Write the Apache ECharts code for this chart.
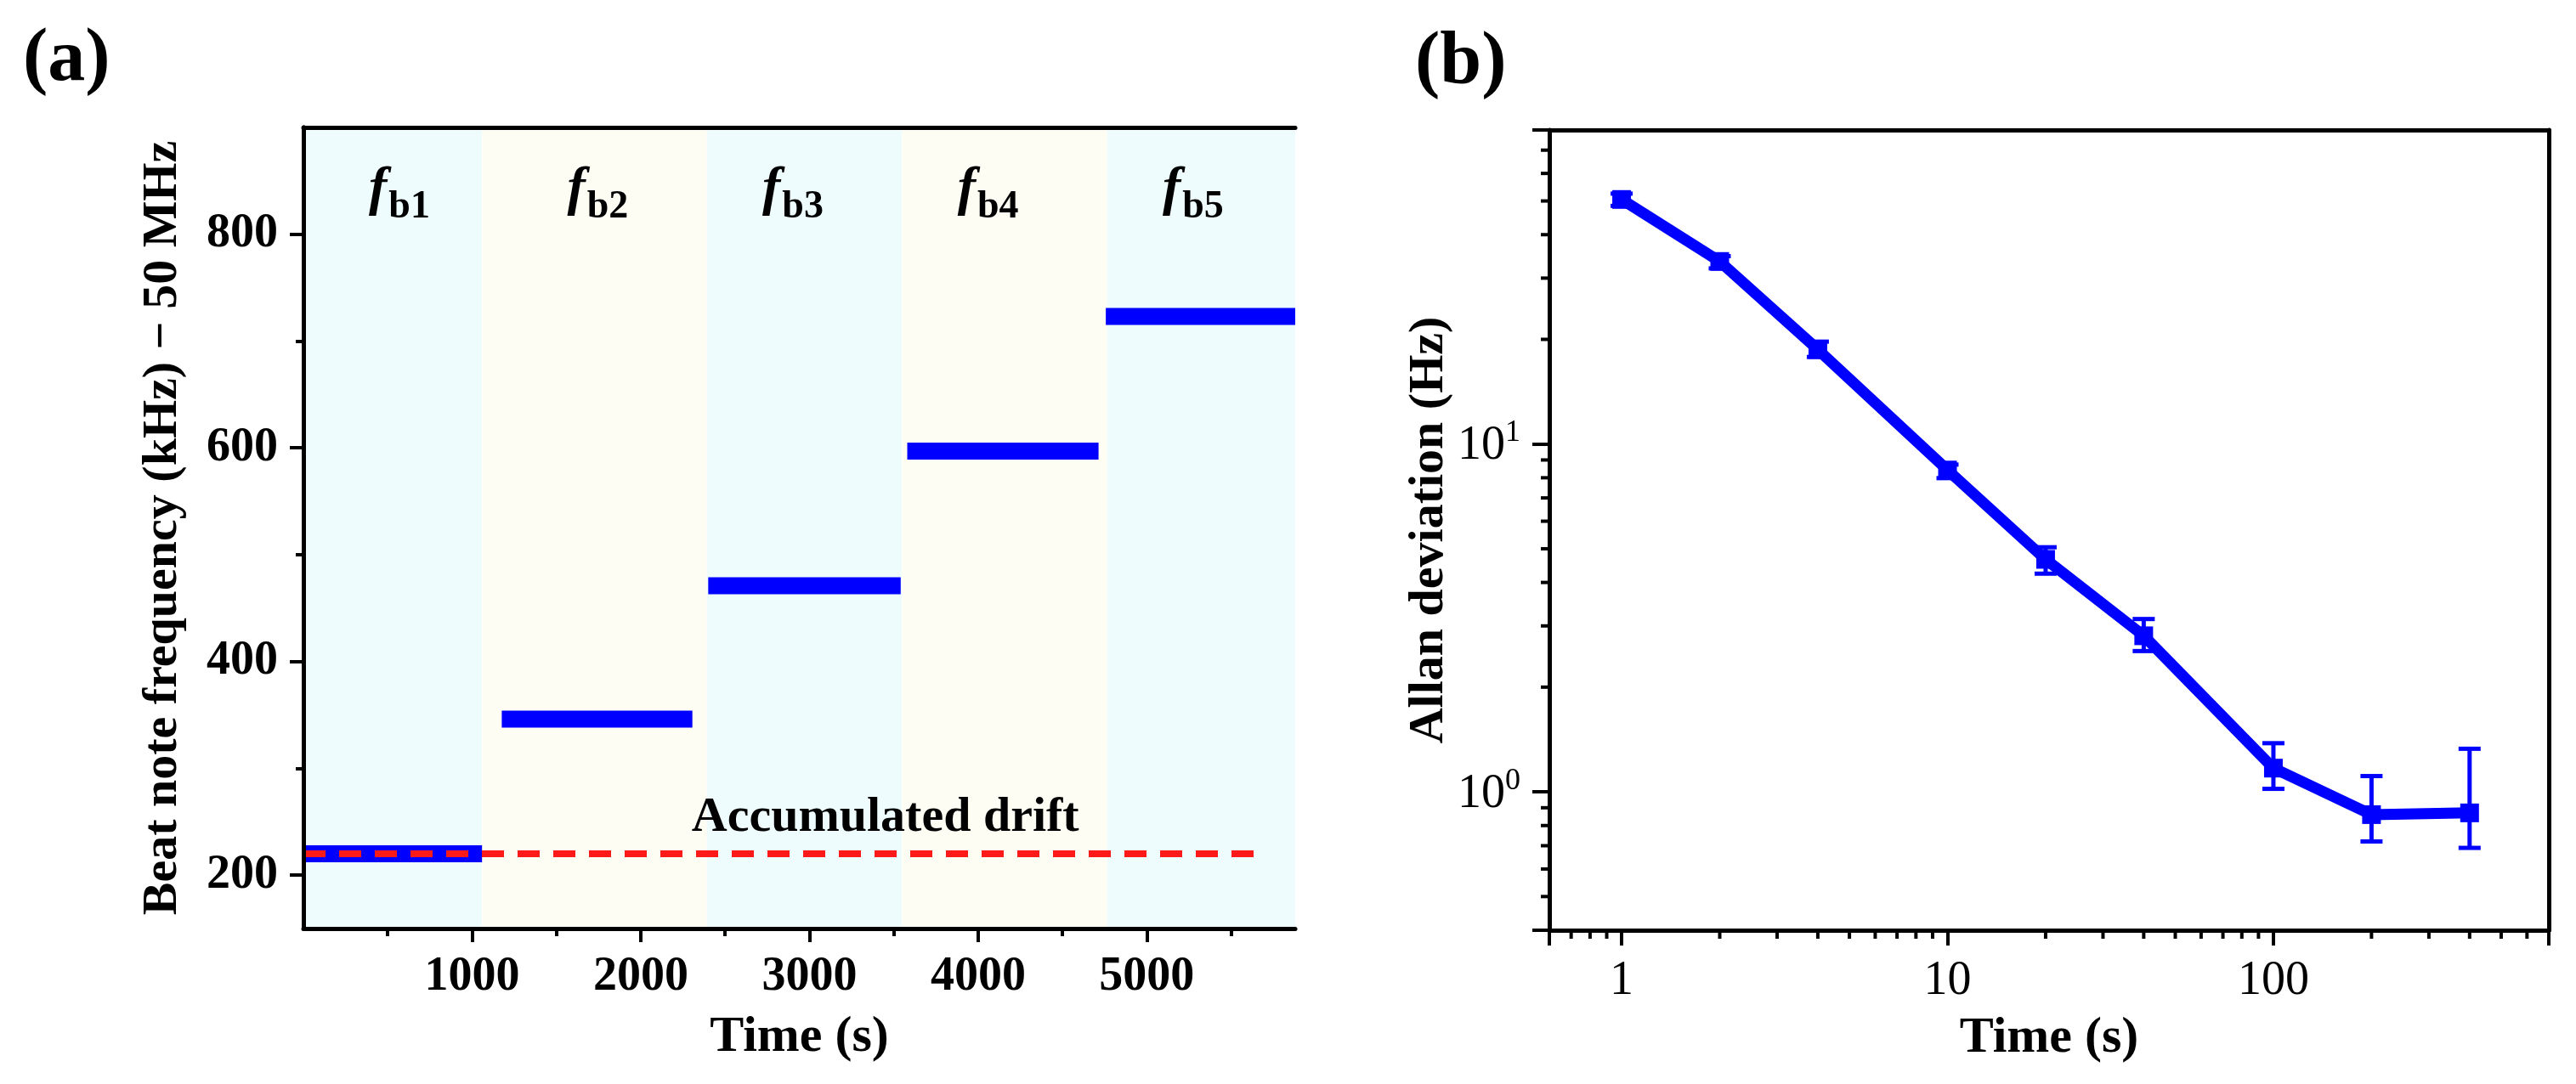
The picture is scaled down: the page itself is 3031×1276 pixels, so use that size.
<!DOCTYPE html>
<html>
<head>
<meta charset="utf-8">
<script src="https://cdn.jsdelivr.net/npm/echarts@6/dist/echarts.min.js"></script>
<style>
html, body { margin: 0; padding: 0; background: #fff; }
#main { width: 3031px; height: 1276px; }
</style>
</head>
<body>
<div id="main"></div>
<script>
// (a) beat note steps, kHz above 50 MHz
var segStart = [0, 1176, 2400, 3580, 4757];
var segEnd = [1059, 2306, 3541, 4714, 5880];
var segLevel = [220, 346, 471, 597, 723];
var bandEdges = [0, 1059, 2392, 3549, 4765, 5880];
var bandNames = ['b1', 'b2', 'b3', 'b4', 'b5'];
var bandLabelX = [569, 1745, 2902, 4059, 5275];
var bandLabelY = 837;
var driftLevel = 220;
var driftEnd = 5706;
var driftText = 'Accumulated drift';
var driftTextPos = [3450, 253];
var timeTicksA = [1000, 2000, 3000, 4000, 5000];
var timeMinorA = [500, 1500, 2500, 3500, 4500, 5500];
var freqTicks = [200, 400, 600, 800];
var freqMinor = [300, 500, 700];
var timeRangeA = [0, 5880];
var freqRange = [150, 900];

// (b) Allan deviation
var tau = [1, 2, 4, 10, 20, 40, 100, 200, 400];
var adev = [50.5, 33.5, 18.7, 8.42, 4.66, 2.81, 1.17, 0.86, 0.87];
var adevLow = [48.4, 32.0, 17.8, 7.98, 4.24, 2.54, 1.02, 0.72, 0.69];
var adevHigh = [52.5, 34.7, 19.7, 8.73, 5.05, 3.14, 1.38, 1.11, 1.33];
var tauRange = [0.6, 700];
var adevRange = [0.4, 80];
var tauMinor = [0.7, 0.8, 0.9, 2, 3, 4, 5, 6, 7, 8, 9, 20, 30, 40, 50, 60, 70, 80, 90, 200, 300, 400, 500, 600];
var adevMinor = [0.5, 0.6, 0.7, 0.8, 0.9, 2, 3, 4, 5, 6, 7, 8, 9, 20, 30, 40, 50, 60, 70];

var serif = 'Liberation Serif, Times New Roman, serif';
var blue = '#0000ff';
var black = '#000';
var bandColors = ['#eefcfd', '#fefdf4'];

var myChart = echarts.init(document.getElementById('main'));

function isPow10(v) {
    var l = Math.log(v) / Math.LN10;
    return Math.abs(l - Math.round(l)) < 1e-6;
}

function frameAxis(grid, pos) {
    return {
        type: 'value', gridIndex: grid, position: pos, min: 0, max: 1, z: 10,
        axisLine: { show: true, lineStyle: { color: black, width: 5 } },
        axisTick: { show: false }, axisLabel: { show: false }, splitLine: { show: false }
    };
}

// short ticks on the log axes of (b), placed through the axis scale
function minorTicks(values, dir, len) {
    return {
        type: 'custom', xAxisIndex: 3, yAxisIndex: 3, silent: true, z: 10,
        data: values.map(function (v) {
            return dir === 'x' ? [v, adevRange[0]] : [tauRange[0], v];
        }),
        renderItem: function (params, api) {
            var p = api.coord([api.value(0), api.value(1)]);
            var shape = dir === 'x'
                ? { x1: p[0], y1: p[1], x2: p[0], y2: p[1] + len }
                : { x1: p[0], y1: p[1], x2: p[0] - len, y2: p[1] };
            return { type: 'line', shape: shape, style: { stroke: black, lineWidth: 4 } };
        }
    };
}

var bandAreas = [];
for (var i = 0; i < bandEdges.length - 1; i++) {
    bandAreas.push([
        { xAxis: bandEdges[i], itemStyle: { color: bandColors[i % 2], opacity: 1 } },
        { xAxis: bandEdges[i + 1] }
    ]);
}

var series = [];
for (var k = 0; k < segLevel.length; k++) {
    series.push({
        type: 'line', xAxisIndex: 0, yAxisIndex: 0, z: 3, symbol: 'none', silent: true,
        data: [[segStart[k], segLevel[k]], [segEnd[k], segLevel[k]]],
        lineStyle: { color: blue, width: 20, cap: 'butt' }
    });
}
series.push({
    type: 'line', xAxisIndex: 0, yAxisIndex: 0, z: 4, symbol: 'none', silent: true,
    data: [[timeRangeA[0], driftLevel], [driftEnd, driftLevel]],
    lineStyle: { color: '#ff1a1a', width: 8, type: [26, 16], cap: 'butt' },
    markArea: { silent: true, data: bandAreas }
});
series.push({
    type: 'scatter', xAxisIndex: 0, yAxisIndex: 0, z: 5, symbolSize: 1, silent: true,
    itemStyle: { color: 'rgba(0,0,0,0)', opacity: 1 },
    data: [driftTextPos],
    label: {
        show: true, position: 'inside', formatter: driftText, opacity: 1,
        fontFamily: serif, fontWeight: 'bold', fontSize: 58, color: black
    }
});
series.push({
    type: 'scatter', xAxisIndex: 0, yAxisIndex: 0, z: 5, symbolSize: 1, silent: true,
    itemStyle: { color: 'rgba(0,0,0,0)', opacity: 1 },
    data: bandLabelX.map(function (x, i) { return { value: [x, bandLabelY], name: bandNames[i] }; }),
    label: {
        show: true, position: 'inside', opacity: 1,
        formatter: function (p) { return '{f|f}{b|' + p.name + '}'; },
        rich: {
            f: { fontFamily: serif, fontStyle: 'italic', fontWeight: 'bold', fontSize: 64, color: black,
                 verticalAlign: 'bottom', padding: [0, 2, 12, 0] },
            b: { fontFamily: serif, fontWeight: 'bold', fontSize: 46, color: black, verticalAlign: 'bottom' }
        }
    }
});

// (b)
series.push({
    type: 'line', xAxisIndex: 3, yAxisIndex: 3, z: 4, silent: true,
    data: tau.map(function (t, i) { return [t, adev[i]]; }),
    symbol: 'rect', symbolSize: 22,
    lineStyle: { color: blue, width: 13 },
    itemStyle: { color: blue, opacity: 1 }
});
series.push({
    type: 'custom', xAxisIndex: 3, yAxisIndex: 3, z: 5, silent: true,
    data: tau.map(function (t, i) { return [t, adevLow[i], adevHigh[i]]; }),
    renderItem: function (params, api) {
        var lo = api.coord([api.value(0), api.value(1)]);
        var hi = api.coord([api.value(0), api.value(2)]);
        var w = 13;
        var st = { stroke: blue, lineWidth: 5 };
        return {
            type: 'group', children: [
                { type: 'line', shape: { x1: lo[0], y1: lo[1], x2: hi[0], y2: hi[1] }, style: st },
                { type: 'line', shape: { x1: lo[0] - w, y1: lo[1], x2: lo[0] + w, y2: lo[1] }, style: st },
                { type: 'line', shape: { x1: hi[0] - w, y1: hi[1], x2: hi[0] + w, y2: hi[1] }, style: st }
            ]
        };
    }
});
series.push(minorTicks(tauMinor, 'x', 10));
series.push(minorTicks(adevMinor, 'y', 10));

var option = {
    animation: false,
    backgroundColor: '#fff',
    title: [
        { text: '(a)', left: 22, top: 22, textStyle: { fontFamily: serif, fontWeight: 'bold', fontSize: 88, color: black } },
        { text: '(b)', left: 1660, top: 26, textStyle: { fontFamily: serif, fontWeight: 'bold', fontSize: 88, color: black } }
    ],
    grid: [
        { left: 357, top: 150, width: 1167, height: 943 },
        { left: 1823, top: 153, width: 1176, height: 942 }
    ],
    xAxis: [
        {
            type: 'value', gridIndex: 0, position: 'bottom', min: timeRangeA[0], max: timeRangeA[1], z: 10,
            name: 'Time (s)', nameLocation: 'middle', nameGap: 98,
            nameTextStyle: { fontFamily: serif, fontWeight: 'bold', fontSize: 60, color: black },
            axisLine: { show: true, lineStyle: { color: black, width: 5 } },
            axisTick: { show: true, length: 16, lineStyle: { color: black, width: 4 }, customValues: timeTicksA },
            axisLabel: {
                margin: 30, fontFamily: serif, fontWeight: 'bold', fontSize: 56, color: black,
                customValues: timeTicksA,
                formatter: function (v) { return String(v); }
            },
            splitLine: { show: false }
        },
        {
            type: 'value', gridIndex: 0, position: 'bottom', min: timeRangeA[0], max: timeRangeA[1], z: 10,
            axisLine: { show: false },
            axisTick: { show: true, length: 9, lineStyle: { color: black, width: 4 }, customValues: timeMinorA },
            axisLabel: { show: false }, splitLine: { show: false }
        },
        frameAxis(0, 'top'),
        {
            type: 'log', logBase: 10, gridIndex: 1, position: 'bottom', min: tauRange[0], max: tauRange[1], z: 10,
            name: 'Time (s)', nameLocation: 'middle', nameGap: 97,
            nameTextStyle: { fontFamily: serif, fontWeight: 'bold', fontSize: 60, color: black },
            axisLine: { show: true, lineStyle: { color: black, width: 5 } },
            axisTick: { show: true, length: 18, lineStyle: { color: black, width: 4 } },
            axisLabel: {
                margin: 32, fontFamily: serif, fontSize: 56, color: black,
                showMinLabel: true, showMaxLabel: true,
                formatter: function (v) { return isPow10(v) ? String(Math.round(v)) : ''; }
            },
            splitLine: { show: false }
        },
        frameAxis(1, 'top')
    ],
    yAxis: [
        {
            type: 'value', gridIndex: 0, position: 'left', min: freqRange[0], max: freqRange[1], z: 10,
            name: 'Beat note frequency (kHz) \u2212 50 MHz', nameLocation: 'middle', nameGap: 136,
            nameTextStyle: { fontFamily: serif, fontWeight: 'bold', fontSize: 58, color: black },
            axisLine: { show: true, lineStyle: { color: black, width: 5 } },
            axisTick: { show: true, length: 16, lineStyle: { color: black, width: 4 }, customValues: freqTicks },
            axisLabel: { margin: 30, fontFamily: serif, fontWeight: 'bold', fontSize: 56, color: black, customValues: freqTicks },
            splitLine: { show: false }
        },
        {
            type: 'value', gridIndex: 0, position: 'left', min: freqRange[0], max: freqRange[1], z: 10,
            axisLine: { show: false },
            axisTick: { show: true, length: 9, lineStyle: { color: black, width: 4 }, customValues: freqMinor },
            axisLabel: { show: false }, splitLine: { show: false }
        },
        frameAxis(0, 'right'),
        {
            type: 'log', logBase: 10, gridIndex: 1, position: 'left', min: adevRange[0], max: adevRange[1], z: 10,
            name: 'Allan deviation (Hz)', nameLocation: 'middle', nameGap: 102,
            nameTextStyle: { fontFamily: serif, fontWeight: 'bold', fontSize: 58, color: black },
            axisLine: { show: true, lineStyle: { color: black, width: 5 } },
            axisTick: { show: true, length: 20, lineStyle: { color: black, width: 4 } },
            axisLabel: {
                margin: 34, fontFamily: serif, fontSize: 56, color: black,
                showMinLabel: true, showMaxLabel: true,
                formatter: function (v) {
                    if (!isPow10(v)) return '';
                    return '{n|10}{s|' + Math.round(Math.log(v) / Math.LN10) + '}';
                },
                rich: {
                    n: { fontFamily: serif, fontSize: 56, color: black, verticalAlign: 'bottom' },
                    s: { fontFamily: serif, fontSize: 36, color: black, verticalAlign: 'bottom', padding: [0, 0, 26, 0] }
                }
            },
            splitLine: { show: false }
        },
        frameAxis(1, 'right')
    ],
    series: series
};

myChart.setOption(option);
</script>
</body>
</html>
